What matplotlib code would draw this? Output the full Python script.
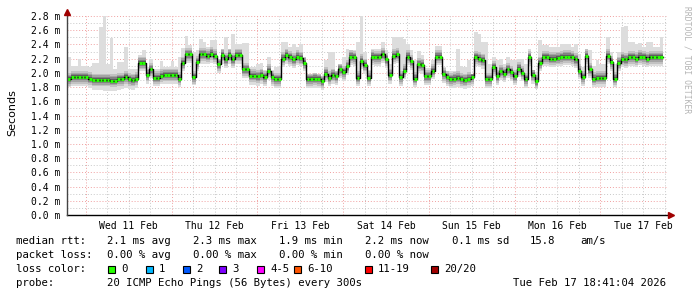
import numpy as np
import matplotlib
matplotlib.use("Agg")
import matplotlib.pyplot as plt

# smokeping 7 day view, hourly bins, values in ms
start_h = 18 + 41 / 60 + 4 / 3600   # Tue Feb 10 18:41:04, hours since Feb 10 00:00
span_h = 168

med = [
    1.91, 1.94, 1.94, 1.94, 1.94, 1.94, 1.92, 1.90, 1.90, 1.90,
    1.90, 1.90, 1.89, 1.89, 1.91, 1.91, 1.94, 1.91, 1.90, 1.92,
    2.14, 2.14, 1.97, 2.05, 1.93, 1.93, 1.96, 1.97, 1.97, 1.97,
    1.97, 1.92, 2.14, 2.26, 2.26, 1.94, 2.15, 2.26, 2.26, 2.24,
    2.27, 2.24, 2.12, 2.25, 2.19, 2.25, 2.19, 2.25, 2.25, 2.05,
    2.05, 1.96, 1.96, 1.95, 1.97, 1.94, 2.03, 1.94, 1.91, 1.91,
    2.20, 2.25, 2.22, 2.19, 2.23, 2.21, 2.14, 1.91, 1.91, 1.92,
    1.91, 1.88, 1.99, 1.93, 1.97, 1.95, 2.05, 2.01, 2.09, 2.23,
    2.22, 1.93, 2.17, 2.11, 1.93, 2.23, 2.22, 2.22, 2.26, 2.19,
    1.97, 2.24, 2.26, 1.94, 2.03, 2.23, 2.16, 1.92, 2.12, 2.11,
    1.95, 1.95, 2.03, 2.23, 2.23, 1.98, 1.94, 1.91, 1.92, 1.93,
    1.91, 1.90, 1.92, 1.94, 2.22, 2.20, 2.18, 1.91, 1.91, 2.08,
    1.95, 2.02, 1.99, 2.05, 2.01, 1.95, 2.06, 2.00, 1.91, 2.22,
    1.97, 1.88, 2.14, 2.22, 2.22, 2.20, 2.20, 2.21, 2.22, 2.23,
    2.23, 2.22, 2.19, 2.03, 1.94, 2.24, 2.05, 1.92, 1.93, 1.93,
    1.93, 2.24, 2.15, 1.92, 2.14, 2.20, 2.19, 2.22, 2.22, 2.20,
    2.23, 2.22, 2.20, 2.22, 2.22, 2.22, 2.22,
]

# slowest ping per bin (top of smoke)
hi = [
    2.23, 2.10, 2.10, 2.20, 2.10, 2.10, 2.08, 2.14, 2.14, 2.65,
    2.82, 2.12, 2.49, 2.06, 2.15, 2.15, 2.37, 2.06, 2.06, 2.06,
    2.25, 2.32, 2.08, 2.20, 2.06, 2.06, 2.16, 2.08, 2.08, 2.17,
    2.08, 2.22, 2.35, 2.52, 2.39, 2.30, 2.32, 2.47, 2.44, 2.37,
    2.46, 2.46, 2.20, 2.33, 2.51, 2.33, 2.55, 2.41, 2.41, 2.42,
    2.42, 2.08, 2.08, 2.12, 2.14, 2.04, 2.23, 2.04, 2.08, 2.08,
    2.43, 2.43, 2.36, 2.41, 2.37, 2.41, 2.23, 1.99, 1.99, 2.00,
    1.98, 1.96, 2.18, 2.30, 2.30, 2.02, 2.12, 2.22, 2.33, 2.32,
    2.32, 2.44, 2.82, 2.30, 2.04, 2.33, 2.33, 2.33, 2.44, 2.32,
    2.13, 2.51, 2.51, 2.50, 2.48, 2.41, 2.32, 2.18, 2.31, 2.25,
    2.07, 2.07, 2.18, 2.38, 2.38, 2.08, 2.03, 2.03, 2.03, 2.33,
    2.10, 2.08, 2.18, 1.99, 2.58, 2.54, 2.44, 2.44, 2.13, 2.23,
    2.18, 2.19, 2.13, 2.23, 2.18, 2.18, 2.20, 2.19, 2.12, 2.34,
    2.04, 2.01, 2.46, 2.39, 2.39, 2.37, 2.37, 2.37, 2.40, 2.40,
    2.40, 2.37, 2.41, 2.27, 2.08, 2.34, 2.32, 2.10, 2.18, 2.13,
    2.13, 2.51, 2.30, 2.13, 2.30, 2.65, 2.66, 2.44, 2.44, 2.41,
    2.42, 2.37, 2.44, 2.44, 2.37, 2.37, 2.50,
]

# fastest ping per bin (bottom of smoke)
lo = [
    1.80, 1.82, 1.82, 1.82, 1.81, 1.81, 1.79, 1.76, 1.76, 1.76,
    1.75, 1.75, 1.74, 1.74, 1.76, 1.77, 1.79, 1.77, 1.76, 1.79,
    2.02, 2.03, 1.84, 1.93, 1.81, 1.81, 1.84, 1.85, 1.85, 1.85,
    1.85, 1.80, 2.02, 2.14, 2.14, 1.83, 2.03, 2.13, 2.13, 2.12,
    2.14, 2.12, 2.00, 2.13, 2.07, 2.12, 2.07, 2.12, 2.12, 1.93,
    1.93, 1.83, 1.83, 1.82, 1.84, 1.81, 1.90, 1.81, 1.78, 1.78,
    2.08, 2.12, 2.10, 2.07, 2.11, 2.09, 2.02, 1.78, 1.78, 1.79,
    1.78, 1.76, 1.87, 1.81, 1.85, 1.83, 1.93, 1.89, 1.97, 2.11,
    2.10, 1.81, 2.05, 1.99, 1.81, 2.11, 2.10, 2.10, 2.14, 2.07,
    1.85, 2.12, 2.14, 1.82, 1.91, 2.11, 2.04, 1.80, 2.00, 1.99,
    1.83, 1.83, 1.91, 2.11, 2.11, 1.86, 1.81, 1.78, 1.79, 1.80,
    1.78, 1.77, 1.79, 1.81, 2.10, 2.08, 2.06, 1.79, 1.79, 1.96,
    1.83, 1.90, 1.87, 1.93, 1.89, 1.83, 1.94, 1.88, 1.79, 2.10,
    1.85, 1.77, 2.02, 2.10, 2.10, 2.08, 2.08, 2.09, 2.10, 2.11,
    2.11, 2.10, 2.07, 1.91, 1.82, 2.12, 1.93, 1.80, 1.80, 1.80,
    1.80, 2.12, 2.03, 1.80, 2.02, 2.08, 2.07, 2.10, 2.10, 2.08,
    2.11, 2.10, 2.08, 2.10, 2.10, 2.10, 2.10,
]

day_labels = ["Wed 11 Feb", "Thu 12 Feb", "Fri 13 Feb", "Sat 14 Feb",
              "Sun 15 Feb", "Mon 16 Feb", "Tue 17 Feb"]

loss_labels = ["0", "1", "2", "3", "4-5", "6-10", "11-19", "20/20"]
loss_colors = ["#26ff00", "#00b8ff", "#0059ff", "#7e00ff",
               "#ff00ff", "#ff5500", "#ff0000", "#a10000"]

MONO = "DejaVu Sans Mono"
W, H = 697, 297

fig = plt.figure(figsize=(W / 100, H / 100), dpi=100)
fig.patch.set_facecolor("white")
ax = fig.add_axes([67 / W, (H - 215) / H, 600 / W, 199 / H])
ax.set_xlim(start_h, start_h + span_h)
ax.set_ylim(0, 2.8)
for s in ax.spines.values():
    s.set_visible(False)

# grid, rrdtool style
minor_c = "#c8c8c8"
major_c = "#f0a0a0"
dots = (0, (1, 2))
for v in np.arange(0.1, 2.85, 0.1):
    major = round(v * 10) % 2 == 0
    ax.axhline(v, color=major_c if major else minor_c, lw=0.7, ls=dots, zorder=0)
for h in range(24, int(start_h + span_h) + 1, 6):
    if h <= start_h:
        continue
    ax.axvline(h, color=major_c if h % 24 == 0 else minor_c, lw=0.7, ls=dots, zorder=0)

# smoke
n = len(med)
t = start_h + np.arange(n + 1)
med_a = np.array(med)
lo_a = np.array(lo)
hi_a = np.array(hi)

def ext(a):
    return np.append(a, a[-1])

ax.fill_between(t, ext(lo_a), ext(hi_a), step="post", color="#dddddd", lw=0, zorder=1)
for w, c in [(0.09, "#c2c2c2"), (0.065, "#a4a4a4"), (0.045, "#828282"), (0.025, "#5c5c5c")]:
    bot = np.maximum(lo_a, med_a - w)
    top = np.minimum(hi_a, med_a + w)
    ax.fill_between(t, ext(bot), ext(top), step="post", color=c, lw=0, zorder=2)

# median: black step line, green where no loss
ax.plot(t, ext(med_a), drawstyle="steps-post", color="black", lw=1.0, zorder=3)
ax.hlines(med_a, t[:-1] + 0.1, t[1:] - 0.1, color=loss_colors[0], lw=2.2, zorder=4)

# axes lines with arrows
x0, x1 = ax.get_xlim()
ax.plot([x0, x1 + 1.2], [0, 0], color="black", lw=1.0, clip_on=False, zorder=5)
ax.plot([x0, x0], [0, 2.8 + 0.06], color="#444444", lw=1.0, clip_on=False, zorder=5)
ax.plot([x1 + 1.2], [0], marker=">", color="#a00000", ms=4, clip_on=False, zorder=6)
ax.plot([x0], [2.86], marker="^", color="#a00000", ms=4, clip_on=False, zorder=6)

# ticks
yt = np.round(np.arange(0, 2.81, 0.2), 1)
ax.set_yticks(yt)
ax.set_yticklabels([f"{v:.1f} m" for v in yt], fontfamily=MONO, fontsize=7)
ax.set_xticks([36 + 24 * i for i in range(len(day_labels))])
ax.set_xticklabels(day_labels, fontfamily=MONO, fontsize=7)
ax.tick_params(axis="y", length=0, pad=5)
ax.tick_params(axis="x", length=0, pad=4)
fig.text(12 / W, 1 - 113 / H, "Seconds", rotation=90, fontsize=8,
         ha="center", va="center")

fig.text(687 / W, 1 - 60 / H, "RRDTOOL / TOBI OETIKER", rotation=270,
         fontfamily=MONO, fontsize=5.8, color="#b4b4b4", ha="center", va="center")

# legend block
fs = 7.7

def put(x, y, s):
    fig.text(x / W, 1 - y / H, s, fontfamily=MONO, fontsize=fs, va="center", ha="left")

cols = [107, 193, 279, 365, 452]
put(16, 241, "median rtt:")
for x, s in zip(cols, ["2.1 ms avg", "2.3 ms max", "1.9 ms min", "2.2 ms now", "0.1 ms sd"]):
    put(x, 241, s)
put(530, 241, "15.8")
put(580, 241, "am/s")

put(16, 255, "packet loss:")
for x, s in zip(cols, ["0.00 % avg", "0.00 % max", "0.00 % min", "0.00 % now"]):
    put(x, 255, s)

put(16, 269, "loss color:")
box_x = [108, 146, 183, 219, 257, 294, 365, 431]
for bx, lab, col in zip(box_x, loss_labels, loss_colors):
    fig.patches.append(plt.Rectangle((bx / W, 1 - 272.5 / H), 7 / W, 7 / H,
                                     transform=fig.transFigure, facecolor=col,
                                     edgecolor="black", lw=0.8))
    put(bx + 13, 269, lab)

put(16, 283, "probe:")
put(107, 283, "20 ICMP Echo Pings (56 Bytes) every 300s")
put(513, 283, "Tue Feb 17 18:41:04 2026")

fig.savefig("out.png", dpi=100)
